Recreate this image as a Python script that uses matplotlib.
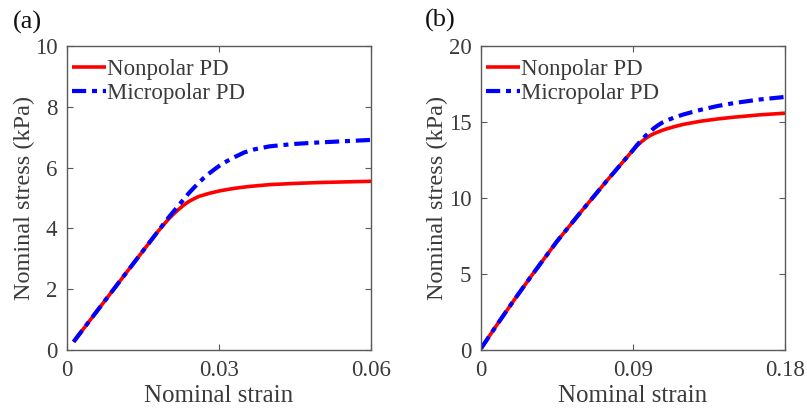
import numpy as np
import matplotlib
matplotlib.use('Agg')
import matplotlib.pyplot as plt

# Panel (a) data
strain_a_np = [0.0013, 0.005, 0.010, 0.015, 0.018, 0.020, 0.021, 0.022, 0.023, 0.024,
               0.025, 0.026, 0.027, 0.028, 0.029, 0.030, 0.032, 0.034, 0.036, 0.040,
               0.045, 0.050, 0.055, 0.060]
stress_a_np = [0.27, 1.08, 2.17, 3.26, 3.91, 4.30, 4.47, 4.62, 4.76, 4.88,
               4.97, 5.05, 5.10, 5.15, 5.19, 5.23, 5.29, 5.34, 5.38, 5.44,
               5.48, 5.51, 5.53, 5.55]
strain_a_mp = [0.0013, 0.005, 0.010, 0.015, 0.020, 0.021, 0.022, 0.023, 0.024, 0.025,
               0.026, 0.027, 0.028, 0.029, 0.030, 0.031, 0.032, 0.033, 0.035, 0.037,
               0.040, 0.045, 0.050, 0.055, 0.060]
stress_a_mp = [0.27, 1.08, 2.17, 3.26, 4.35, 4.55, 4.75, 4.95, 5.15, 5.33,
               5.50, 5.66, 5.80, 5.93, 6.05, 6.16, 6.25, 6.34, 6.50, 6.60,
               6.70, 6.78, 6.83, 6.87, 6.91]

# Panel (b) data
strain_b_np = [0.0, 0.01, 0.02, 0.03, 0.045, 0.06, 0.075, 0.09, 0.0925, 0.095,
               0.0975, 0.10, 0.1025, 0.105, 0.1075, 0.11, 0.115, 0.12, 0.13, 0.14,
               0.15, 0.165, 0.18]
stress_b_np = [0.1, 1.75, 3.35, 4.9, 7.15, 9.2, 11.2, 13.15, 13.45, 13.7,
               13.92, 14.1, 14.24, 14.35, 14.46, 14.55, 14.71, 14.85, 15.05, 15.2,
               15.32, 15.47, 15.58]
strain_b_mp = [0.0, 0.01, 0.02, 0.03, 0.045, 0.06, 0.075, 0.09, 0.0925, 0.095,
               0.0975, 0.10, 0.1025, 0.105, 0.1075, 0.11, 0.115, 0.12, 0.13, 0.14,
               0.15, 0.165, 0.18]
stress_b_mp = [0.1, 1.75, 3.35, 4.9, 7.15, 9.2, 11.2, 13.15, 13.5, 13.8,
               14.1, 14.35, 14.6, 14.8, 14.97, 15.1, 15.32, 15.5, 15.8, 16.05,
               16.25, 16.48, 16.65]

labels = ['Nonpolar PD', 'Micropolar PD']
xticks_a = [0, 0.03, 0.06]
xticklabels_a = ['0', '0.03', '0.06']
yticks_a = [0, 2, 4, 6, 8, 10]
xticks_b = [0, 0.09, 0.18]
xticklabels_b = ['0', '0.09', '0.18']
yticks_b = [0, 5, 10, 15, 20]

plt.rcParams['font.family'] = ['Liberation Serif', 'DejaVu Serif']
text_col = '#3a3a3a'
axis_col = '#5a5a5a'

fig = plt.figure(figsize=(8.07, 4.15), dpi=100)
ax_a = fig.add_axes([67/807, 65/415, 304/807, 304/415])
ax_b = fig.add_axes([481/807, 65/415, 304/807, 304/415])

panels = [
    (ax_a, strain_a_np, stress_a_np, strain_a_mp, stress_a_mp, (0, 0.06), (0, 10),
     xticks_a, xticklabels_a, yticks_a),
    (ax_b, strain_b_np, stress_b_np, strain_b_mp, stress_b_mp, (0, 0.18), (0, 20),
     xticks_b, xticklabels_b, yticks_b),
]

for ax, xn, yn, xm, ym, xl, yl, xt, xtl, yt in panels:
    ax.plot(xn, yn, color='#ff0000', lw=2.6, solid_capstyle='butt',
            solid_joinstyle='round', label=labels[0])
    ax.plot(xm, ym, color='#0000ff', lw=3.0, linestyle=(0, (3.4, 1.4, 1.2, 1.4)),
            label=labels[1])
    ax.set_xlim(*xl)
    ax.set_ylim(*yl)
    ax.set_xticks(xt)
    ax.set_xticklabels(xtl)
    ax.set_yticks(yt)
    ax.tick_params(direction='in', top=True, right=True, length=4, width=0.8,
                   colors=axis_col, labelcolor=text_col, labelsize=16.5, pad=7)
    for sp in ax.spines.values():
        sp.set_color(axis_col)
        sp.set_linewidth(1.0)
    ax.set_xlabel('Nominal strain', fontsize=18, color=text_col, labelpad=3)
    ax.set_ylabel('Nominal stress (kPa)', fontsize=17.5, color=text_col, labelpad=0)
    ax.legend(loc='upper left', bbox_to_anchor=(-0.016, 0.99), frameon=False,
              fontsize=16.5, handlelength=1.45, handletextpad=0.05, labelspacing=0.12,
              borderaxespad=0.25, borderpad=0.2, labelcolor=text_col)

fig.text(27/807, 1 - 22/415, '(a)', fontsize=19, ha='center', va='center', color='#111111')
fig.text(440/807, 1 - 20/415, '(b)', fontsize=19, ha='center', va='center', color='#111111')

fig.savefig('out.png', dpi=100)
